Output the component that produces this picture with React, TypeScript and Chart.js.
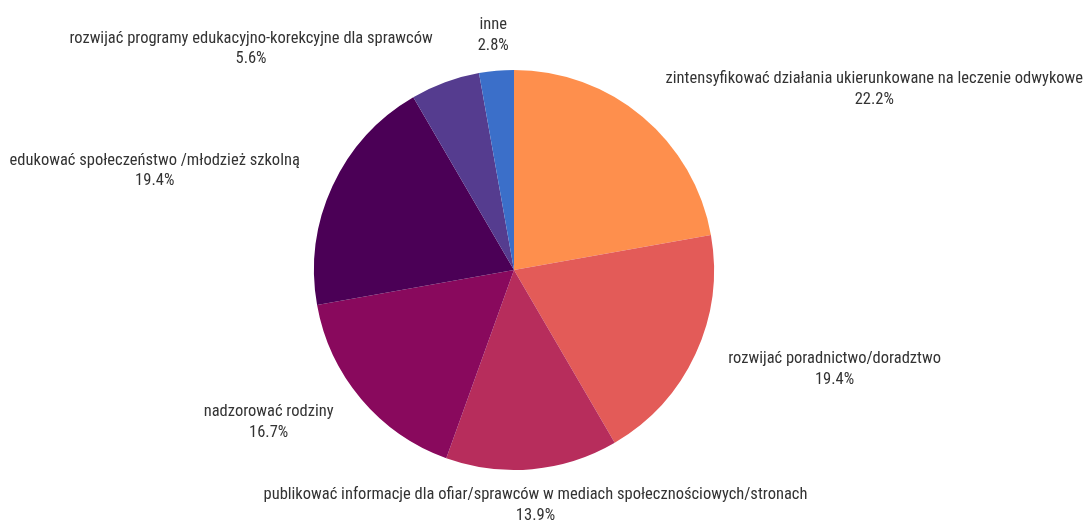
import React, { useEffect, useRef } from "react";
import { Chart, registerables } from "chart.js";

Chart.register(...registerables);

const categories: string[] = [
  "zintensyfikować działania ukierunkowane na leczenie odwykowe",
  "rozwijać poradnictwo/doradztwo",
  "publikować informacje dla ofiar/sprawców w mediach społecznościowych/stronach",
  "nadzorować rodziny",
  "edukować społeczeństwo /młodzież szkolną",
  "rozwijać programy edukacyjno-korekcyjne dla sprawców",
  "inne",
];
const values: number[] = [22.2, 19.4, 13.9, 16.7, 19.4, 5.6, 2.8];
const colors: string[] = ["#FE8F4D", "#E35B58", "#B72D5C", "#89095D", "#4B0056", "#553C8F", "#3B6FC9"];

const FONT = "16.5px 'Roboto Condensed', 'Liberation Sans Narrow', Roboto, sans-serif";

const labelPlugin = {
  id: "outerLabels",
  afterDatasetsDraw(chart: any) {
    const ctx = chart.ctx as CanvasRenderingContext2D;
    const meta = chart.getDatasetMeta(0);
    ctx.save();
    ctx.font = FONT;
    ctx.fillStyle = "#333333";
    ctx.textBaseline = "middle";
    meta.data.forEach((arc: any, i: number) => {
      const p = arc.getProps(["x", "y", "startAngle", "endAngle", "outerRadius"], true);
      const mid = (p.startAngle + p.endAngle) / 2;
      const dist = p.outerRadius + 36;
      const c = Math.cos(mid);
      const s = Math.sin(mid);
      const px = p.x + c * dist;
      const py = p.y + s * dist;
      const lines = [categories[i], values[i].toFixed(1) + "%"];
      const w = Math.max(...lines.map((l) => ctx.measureText(l).width));
      let cx: number;
      if (Math.abs(c) < 0.25) cx = px;
      else if (c > 0) cx = px + w / 2;
      else cx = px - w / 2;
      ctx.textAlign = "center";
      ctx.fillText(lines[0], cx, py - 10);
      ctx.fillText(lines[1], cx, py + 10.5);
    });
    ctx.restore();
  },
};

export default function App() {
  const ref = useRef<HTMLCanvasElement | null>(null);
  useEffect(() => {
    if (!ref.current) return;
    const chart = new Chart(ref.current, {
      type: "pie",
      data: {
        labels: categories,
        datasets: [
          {
            data: values,
            backgroundColor: colors,
            borderWidth: 0,
          },
        ],
      },
      options: {
        responsive: false,
        animation: false,
        layout: { padding: { left: 314, right: 378, top: 70, bottom: 52 } },
        plugins: {
          legend: { display: false },
          tooltip: { enabled: false },
        },
      },
      plugins: [labelPlugin],
    });
    return () => chart.destroy();
  }, []);
  return (
    <div style={{ position: "fixed", left: 0, top: 0, width: 1092, height: 522, background: "#fff" }}>
      <canvas ref={ref} width={1092} height={522} style={{ width: 1092, height: 522 }} />
    </div>
  );
}
